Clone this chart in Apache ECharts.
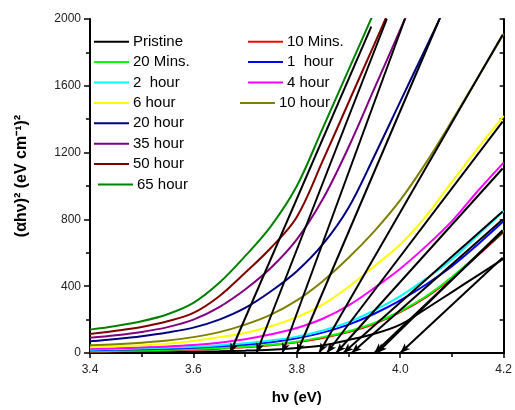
<!DOCTYPE html>
<html>
<head>
<meta charset="utf-8">
<title>Tauc plot</title>
<script src="https://cdn.jsdelivr.net/npm/echarts@6/dist/echarts.min.js"></script>
<style>
  html, body { margin: 0; padding: 0; background: #fff; }
  #chart { width: 515px; height: 410px; }
</style>
</head>
<body>
<div id="chart"></div>
<script>
// photon energy grid, eV
const hv = [3.4, 3.45, 3.5, 3.55, 3.6, 3.65, 3.7, 3.75, 3.8, 3.85, 3.9, 3.95, 4.0, 4.05, 4.1, 4.15, 4.2];

const sampleNames = ['Pristine', '10 Mins.', '20 Mins.', '1  hour', '2  hour', '4 hour',
  '6 hour', '10 hour', '20 hour', '35 hour', '50 hour', '65 hour'];
const sampleColors = ['#000000', '#FF0000', '#00FF00', '#0000FF', '#00FFFF', '#FF00FF',
  '#FFFF00', '#808000', '#000080', '#800080', '#800000', '#008000'];

// (αhν)^2 (null = above the frame)
const pristine = [2, 3, 4, 5, 7, 10, 14, 20, 30, 45, 78, 115, 170, 265, 365, 465, 565];
const min10 = [8, 10, 13, 16, 20, 26, 34, 46, 64, 90, 125, 175, 245, 335, 450, 585, 725];
const min20 = [10, 12, 15, 19, 24, 30, 38, 50, 68, 95, 130, 180, 250, 340, 455, 590, 735];
const hour1 = [16, 19, 22, 26, 32, 40, 50, 65, 88, 122, 170, 235, 315, 410, 520, 650, 790];
const hour2 = [20, 23, 27, 32, 38, 47, 58, 75, 98, 135, 185, 255, 340, 445, 560, 705, 850];
const hour4 = [25, 28, 33, 39, 48, 62, 82, 112, 150, 205, 285, 390, 505, 640, 790, 970, 1140];
const hour6 = [35, 40, 46, 56, 72, 95, 120, 160, 215, 290, 395, 520, 650, 820, 1025, 1225, 1420];
const hour10 = [47, 53, 62, 75, 95, 125, 170, 230, 315, 430, 570, 730, 915, 1140, 1390, 1650, 1910];
const hour20 = [70, 84, 101, 123, 152, 200, 270, 370, 490, 650, 870, 1180, 1505, 1830, 2155, null, null];
const hour35 = [91, 106, 126, 155, 200, 275, 380, 510, 680, 920, 1232, 1584, 1936, 2290, null, null, null];
const hour50 = [114, 133, 156, 190, 240, 340, 480, 630, 815, 1150, 1500, 1850, 2200, null, null, null, null];
const hour65 = [140, 162, 190, 232, 300, 420, 580, 760, 1000, 1345, 1695, 2045, null, null, null, null, null];
const curves = [pristine, min10, min20, hour1, hour2, hour4, hour6, hour10, hour20, hour35, hour50, hour65];

// linear fits: x-intercept (band gap) and upper end of each fitted line
const gapEnergy = [4.0, 3.95, 3.955, 3.906, 3.89, 3.876, 3.858, 3.843, 3.80, 3.772, 3.722, 3.671];
const fitEndX = [4.198, 4.198, 4.198, 4.198, 4.198, 4.198, 4.198, 4.198, 4.076, 4.009, 3.974, 3.944];
const fitEndY = [570, 728, 735, 800, 848, 1105, 1385, 1905, 2000, 2000, 2000, 1954];

const xTicks = { min: 3.4, max: 4.2, step: 0.2 };
const yTicks = { min: 0, max: 2000, step: 400 };

const font = "'Liberation Sans', Arial, sans-serif";

function buildSeries() {
  let list = [];
  for (let i = 0; i < curves.length; i++) {
    list.push({
      name: sampleNames[i],
      type: 'line',
      data: hv.map((x, k) => [x, curves[i][k]]),
      symbol: 'none',
      smooth: 0.35,
      lineStyle: { color: sampleColors[i], width: 2 },
      itemStyle: { color: sampleColors[i] },
      z: 2
    });
  }
  // fitted lines with arrow at the intercept
  let fits = [];
  for (let i = 0; i < gapEnergy.length; i++) {
    fits.push([{ coord: [fitEndX[i], fitEndY[i]] }, { coord: [gapEnergy[i], 0] }]);
  }
  list.push({
    type: 'line',
    data: [],
    z: 3,
    markLine: {
      silent: true,
      animation: false,
      symbol: ['none', 'arrow'],
      symbolSize: [6, 10],
      label: { show: false },
      lineStyle: { color: '#000', width: 2, type: 'solid' },
      data: fits
    }
  });
  return list;
}

function legendBlock(names, left, top) {
  return {
    data: names,
    orient: 'vertical',
    left: left,
    top: top,
    padding: 0,
    icon: 'rect',
    itemWidth: 35,
    itemHeight: 2,
    itemGap: 4.4,
    textStyle: { color: '#000', fontSize: 15, fontFamily: font, lineHeight: 16, padding: [0, 0, 0, -1] },
    selectedMode: false
  };
}

let chart = echarts.init(document.getElementById('chart'));
let rowH = 20.4, top0 = 33.7;
let option = {
  animation: false,
  backgroundColor: '#fff',
  grid: { left: 90, right: 11, top: 19, bottom: 53 },
  legend: [
    legendBlock(['Pristine', '20 Mins.', '2  hour', '6 hour', '20 hour', '35 hour', '50 hour'], 94, top0),
    legendBlock(['65 hour'], 98, top0 + 7 * rowH),
    legendBlock(['10 Mins.', '1  hour', '4 hour'], 248, top0),
    legendBlock(['10 hour'], 240, top0 + 3 * rowH)
  ],
  xAxis: [{
    type: 'value',
    min: xTicks.min, max: xTicks.max, interval: xTicks.step,
    name: 'hν (eV)',
    nameLocation: 'middle',
    nameGap: 37,
    nameTextStyle: { color: '#000', fontSize: 15, fontWeight: 'bold', fontFamily: font },
    axisLine: { lineStyle: { color: '#000', width: 2 } },
    axisTick: { length: 5, lineStyle: { color: '#000', width: 1.5 } },
    minorTick: { show: true, splitNumber: 2, length: 4, lineStyle: { color: '#000', width: 1.5 } },
    axisLabel: { color: '#222', fontSize: 12, fontFamily: font, margin: 11, formatter: v => v.toFixed(1) },
    splitLine: { show: false }
  }, {
    type: 'value', position: 'top',
    min: xTicks.min, max: xTicks.max, interval: xTicks.step,
    axisLine: { lineStyle: { color: '#000', width: 2 } },
    axisTick: { inside: true, length: 4, lineStyle: { color: '#000', width: 1.5 } },
    minorTick: { show: true, splitNumber: 2, length: 3, lineStyle: { color: '#000', width: 1.5 } },
    axisLabel: { show: false },
    splitLine: { show: false }
  }],
  yAxis: [{
    type: 'value',
    min: yTicks.min, max: yTicks.max, interval: yTicks.step,
    axisLine: { show: true, lineStyle: { color: '#000', width: 2 } },
    axisTick: { show: true, length: 6, lineStyle: { color: '#000', width: 1.5 } },
    minorTick: { show: true, splitNumber: 2, length: 4, lineStyle: { color: '#000', width: 1.5 } },
    axisLabel: { color: '#222', fontSize: 12, fontFamily: font, margin: 9, formatter: v => String(v) },
    splitLine: { show: false }
  }, {
    type: 'value', position: 'right',
    min: yTicks.min, max: yTicks.max, interval: yTicks.step,
    axisLine: { show: true, lineStyle: { color: '#000', width: 2 } },
    axisTick: { show: true, inside: true, length: 4, lineStyle: { color: '#000', width: 1.5 } },
    minorTick: { show: true, splitNumber: 2, length: 4, lineStyle: { color: '#000', width: 1.5 } },
    axisLabel: { show: false },
    splitLine: { show: false }
  }],
  graphic: [{
    type: 'text',
    x: 22, y: 176,
    rotation: Math.PI / 2,
    style: {
      text: '(αhν)² (eV cm⁻¹)²',
      font: 'bold 16px ' + font,
      fill: '#000',
      textAlign: 'center',
      textVerticalAlign: 'middle'
    }
  }],
  series: buildSeries()
};
chart.setOption(option);
</script>
</body>
</html>
